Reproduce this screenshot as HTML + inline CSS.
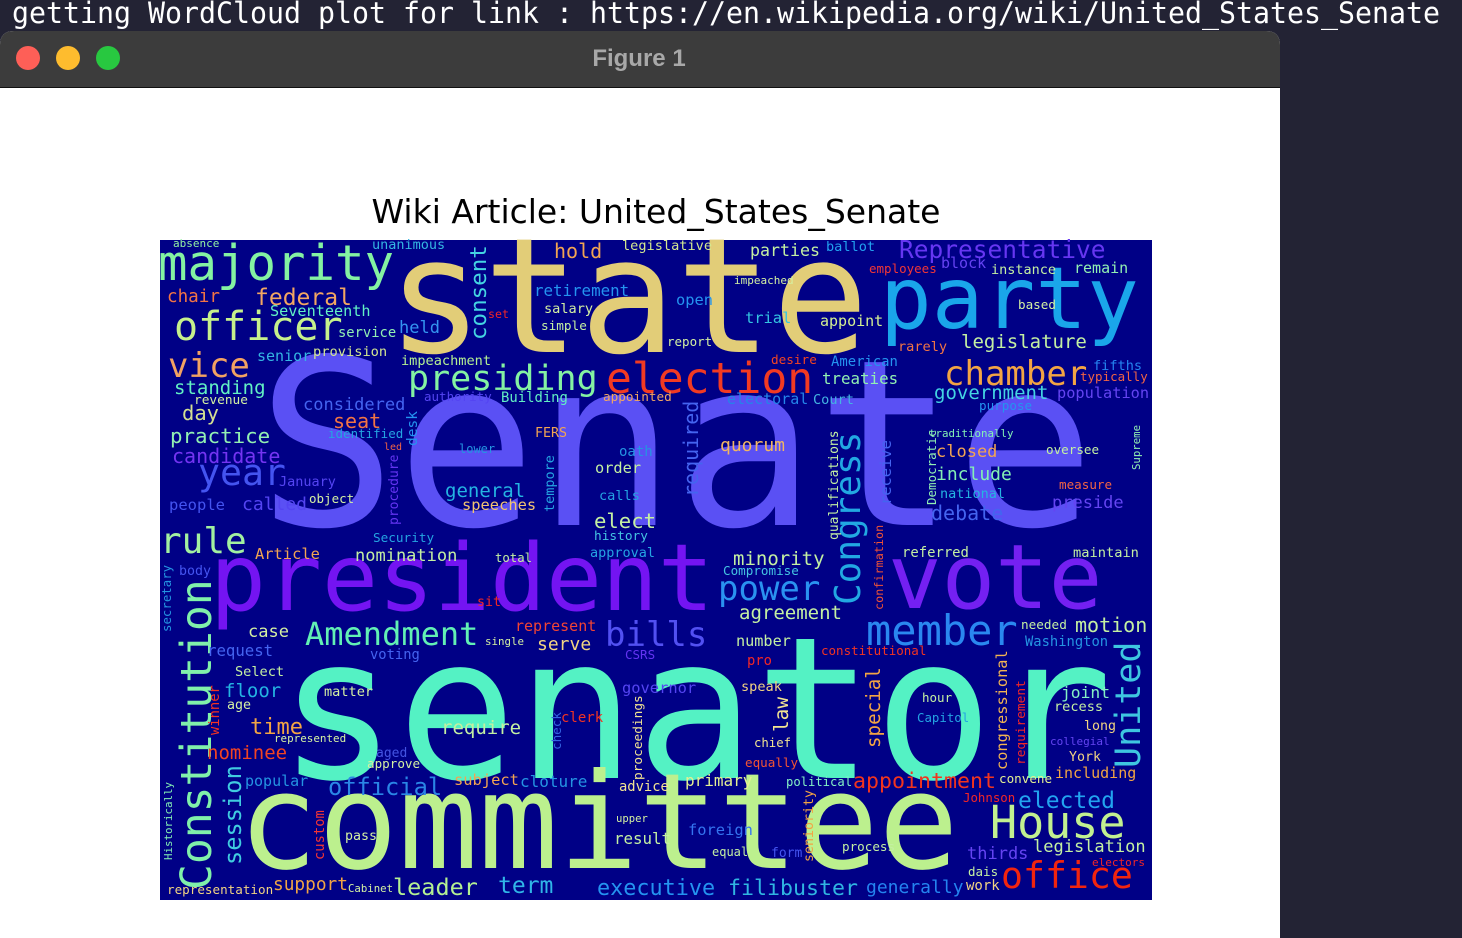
<!DOCTYPE html>
<html><head><meta charset="utf-8"><style>
html,body{margin:0;padding:0;width:1462px;height:938px;overflow:hidden;background:#232334;}
</style></head><body>
<svg width="1462" height="938" xmlns="http://www.w3.org/2000/svg">
<rect x="0" y="0" width="1462" height="938" fill="#232334"/>
<text x="12" y="23" font-family="DejaVu Sans Mono, Liberation Mono, monospace" font-size="29" fill="#ffffff" textLength="1428" lengthAdjust="spacingAndGlyphs">getting WordCloud plot for link : https://en.wikipedia.org/wiki/United_States_Senate</text>
<g>
<path d="M0 45 Q0 31 14 31 L1266 31 Q1280 31 1280 45 L1280 938 L0 938 Z" fill="#ffffff"/>
<path d="M0 45 Q0 31 14 31 L1266 31 Q1280 31 1280 45 L1280 87 L0 87 Z" fill="#3c3c3c"/>
<line x1="0" y1="87.5" x2="1280" y2="87.5" stroke="#111" stroke-width="1"/>
<circle cx="28" cy="58" r="12" fill="#fe5f57"/>
<circle cx="68" cy="58" r="12" fill="#febc2e"/>
<circle cx="108" cy="58" r="12" fill="#28c840"/>
<text x="639" y="66" text-anchor="middle" font-family="Liberation Sans, sans-serif" font-weight="bold" font-size="24" fill="#a8a8a8">Figure 1</text>
</g>
<text x="656" y="223" text-anchor="middle" font-family="DejaVu Sans, Liberation Sans, sans-serif" font-size="33" fill="#000">Wiki Article: United_States_Senate</text>
<rect x="160" y="240" width="992" height="660" fill="#000086"/>
<g id="cloud" font-family="DejaVu Sans Mono, Liberation Mono, monospace"></g>
</svg>
<script>
const words = ["state","Senate","senator","committee","president","party","vote","election","presiding","majority","officer","Constitution","member","chamber","House","office","Congress","United","power","bills","Amendment","rule","year","vice","appointment","elected","Representative","legislature","official","session","filibuster","executive","leader","term","absence","unanimous","hold","legislative","parties","ballot","employees","block","instance","remain","chair","federal","Seventeenth","service","held","consent","set","retirement","salary","simple","impeached","open","trial","appoint","based","rarely","report","senior","provision","impeachment","desire","American","treaties","fifths","typically","standing","revenue","considered","authority","Building","appointed","electoral","Court","government","population","purpose","day","seat","identified","desk","practice","led","FERS","lower","oath","order","quorum","required","traditionally","closed","oversee","Supreme","include","measure","national","Democratic","receive","candidate","January","people","called","object","procedure","general","speeches","tempore","calls","elect","history","approval","debate","preside","qualifications","Security","nomination","total","Article","body","minority","Compromise","referred","maintain","confirmation","secretary","sit","agreement","needed","motion","Washington","case","request","voting","single","represent","serve","CSRS","number","constitutional","pro","Select","floor","matter","age","winner","governor","speak","law","proceedings","special","hour","Capitol","congressional","requirement","joint","recess","long","collegial","York","including","convene","time","represented","nominee","aged","approve","require","clerk","check","chief","equally","popular","subject","cloture","advice","primary","political","Johnson","Historically","custom","pass","upper","result","foreign","equal","seniority","form","process","thirds","legislation","electors","dais","work","generally","representation","support","Cabinet"];
const xs = [387,257,278,238,210,880,888,606,408,158,174,211,866,944,990,1001,860,1140,718,605,305,160,198,168,853,1018,899,961,328,241,728,597,393,498,173,372,554,622,750,826,869,941,991,1074,167,255,270,338,399,486,488,534,544,541,734,676,745,820,1018,898,667,257,313,401,771,831,822,1093,1080,174,194,303,424,501,603,727,813,934,1057,979,182,333,328,417,170,384,535,459,619,595,720,698,929,936,1046,1140,936,1059,940,936,891,172,279,169,242,309,398,445,462,554,599,594,594,590,931,1052,838,373,355,495,255,179,733,723,902,1073,883,171,477,739,1021,1075,1025,248,207,370,485,515,537,625,736,821,747,235,224,324,227,219,622,741,788,642,880,922,917,1007,1025,1061,1054,1084,1050,1069,1055,999,250,274,207,376,367,441,561,561,754,745,245,454,520,619,685,786,963,172,324,345,616,614,688,712,813,771,842,967,1033,1092,968,966,866,167,273,348];
const ys = [352,525,778,868,610,328,608,393,390,280,340,890,645,385,838,888,605,768,600,646,645,553,485,377,788,808,258,348,795,865,895,895,895,893,247,249,258,250,256,251,273,268,274,273,302,305,316,337,333,340,318,296,313,330,284,305,323,326,309,351,346,361,356,365,364,366,384,370,381,394,404,410,401,402,401,404,404,399,398,410,420,428,438,446,443,450,437,453,456,473,451,497,437,457,454,470,480,489,498,505,505,463,486,510,510,503,525,497,510,512,500,528,540,557,520,508,540,542,561,562,559,575,565,575,557,557,610,632,606,619,629,632,646,637,656,659,645,631,650,659,646,655,665,676,697,696,709,735,693,691,732,780,748,702,722,770,765,698,711,730,745,761,778,783,734,742,759,757,768,734,722,750,747,767,786,785,787,791,786,786,802,860,860,840,822,844,835,856,862,857,851,859,852,866,876,890,893,894,890,892];
const sizes = [160,232,198,133,93,86,89,43,35,49,40,43,42,34,45,36.5,36,35,34,34,32,36,36.5,34,21.6,23,24.5,19,23.7,23.7,21.6,21.8,23.5,23,11,13.5,20,13.6,16.6,13.6,12.5,15,13.5,15,17.6,23,15.2,13.8,17,22.5,11.6,15.8,13.6,12.7,11,15.4,15.4,15,12.6,13.6,12.5,15,13.7,13.6,12.7,13.9,15.8,13.6,12.5,19,12.8,17,12.5,13.9,12.7,15,13.6,19,15.3,12.6,20.5,20,12.5,14.5,20.8,10,13.3,12,14,15.3,18,20,10.8,17,12.6,10.7,18,12.6,13.5,12.5,15.4,20,13.5,15.5,18,12.5,13,19,15.4,13.5,13.6,20.6,12.8,13.5,20,17,13,12.7,17,12.3,15.4,13.3,19,12.6,13.9,13.7,11.8,12.4,13.3,19,12.7,20,13.8,17,15.7,13.8,10.8,15,18,12.5,15.2,12.5,13.8,13.6,19,13.6,13.3,13.8,15.4,13.6,19.4,12.8,19.2,12.5,12.4,15.3,12.8,16.3,13.6,13.3,11,13.3,15,12.6,22,10.9,19,13,12.6,19,14,12.6,12.3,12.6,15,15.4,16,13.8,16,12.2,12.4,10.8,13.8,13.3,10.6,15.8,15.4,12,13.3,13,12.6,17,17,11,12.5,14,18,12.6,17.8,10.7];
const colors = [
"#e2cd78","#5a50f4","#54f2c4","#bcf08e","#7414f2","#1aa6ea","#7420f2","#f23a22","#84f2a2","#84f2a2",
"#c6f08c","#80f0aa","#2a88f0","#f2a444","#c2f090","#f2240e","#22a8e2","#3ec6e0","#2a92f0","#5250f2",
"#62f0b4","#a2f0a0","#4454f0","#f2a262","#f2341e","#22a4f0","#6636f2","#c4f0a2","#2a86e6","#40cce0",
"#30b6e2","#2494f0","#b4f092","#30b6e8","#92f0a2","#34b6e2","#f2a452","#d4e890","#c4f0a2","#22a2f0",
"#f23636","#6442f2","#c4f0a2","#92f0b2","#f27444","#f2a662","#62f0c4","#92f0b2","#3494f0","#44d4e2",
"#f22626","#2494f0","#d4f0a2","#c4f0a2","#d4f0a2","#2494f0","#34c4e2","#d4f092","#d4f0a2","#f27444",
"#d4f0a2","#34b6e2","#d4e890","#b4f092","#f24422","#2494f0","#92f0b2","#2484f0","#f26444","#62f0c4",
"#d4f0a2","#4464f0","#5444f2","#62f0c4","#f2a662","#2484ea","#44b4e2","#44d4e2","#6444f2","#2494f0",
"#d4e092","#f27444","#24a4e2","#2494f0","#92f0b2","#f26444","#f2a452","#2494e2","#2494e2","#c4f0a2",
"#f2b662","#4464f0","#84f0b4","#f2a452","#c4f0a2","#92f0b2","#84f0b4","#f26444","#24b4e2","#92f0b2",
"#4464f0","#7434f2","#5444f2","#4454f0","#5444f2","#d4f0a2","#6434f2","#24b4e2","#f2c472","#24a4e2",
"#24a4e2","#c4f0a2","#44c4e2","#24a4e2","#4464f0","#6444f2","#c4f0a2","#24a4e2","#c4f0a2","#c4f0a2",
"#f2a452","#4454f0","#c4f0a2","#44c4e2","#c4f0a2","#c4f0a2","#f25434","#2494e2","#f22626","#c4f0a2",
"#c4f0a2","#c4f0a2","#2494e2","#d4f0a2","#4464f0","#4464f0","#d4f0a2","#f24434","#f2d482","#6434f2",
"#c4f0a2","#f23422","#f22626","#c4f0a2","#24b4e2","#d4f0a2","#d4f0a2","#f23422","#5444f2","#f2d482",
"#f2e492","#f2e492","#f2a444","#c4f0a2","#24a4e2","#f2b452","#f22626","#84f0c4","#c4f0a2","#f2d482",
"#6444f2","#f2d482","#f2a444","#e4f092","#f2a444","#d4f0a2","#f24422","#4454e2","#d4f0a2","#c4f0a2",
"#f23422","#3464e2","#f2e492","#f25434","#2494e2","#f2a452","#2494e2","#f2e492","#e4f092","#84f0c4",
"#f22626","#84f0b4","#f23434","#d4f0a2","#d4f0a2","#c4f0a2","#3474f0","#c4f0a2","#f2a444","#4454f0",
"#c4f0a2","#6444f2","#c4f0a2","#f22626","#c4f0a2","#f2d482","#2484f0","#f2d482","#f2a444","#d4f0a2"];
const vertical = ["Constitution","Congress","United","session","consent","desk","required","Supreme","Democratic","receive","procedure","tempore","qualifications","confirmation","secretary","winner","law","proceedings","special","congressional","requirement","check","Historically","custom","seniority"];

const g = document.getElementById('cloud');
const NS = 'http://www.w3.org/2000/svg';
for (let i = 0; i < words.length; i++) {
  const t = document.createElementNS(NS, 'text');
  t.textContent = words[i];
  t.setAttribute('font-size', sizes[i]);
  t.setAttribute('fill', colors[i]);
  if (vertical.indexOf(words[i]) >= 0) {
    t.setAttribute('transform', 'translate(' + xs[i] + ',' + ys[i] + ') rotate(-90)');
  } else {
    t.setAttribute('x', xs[i]);
    t.setAttribute('y', ys[i]);
  }
  
  
  g.appendChild(t);
}
</script>
</body></html>
